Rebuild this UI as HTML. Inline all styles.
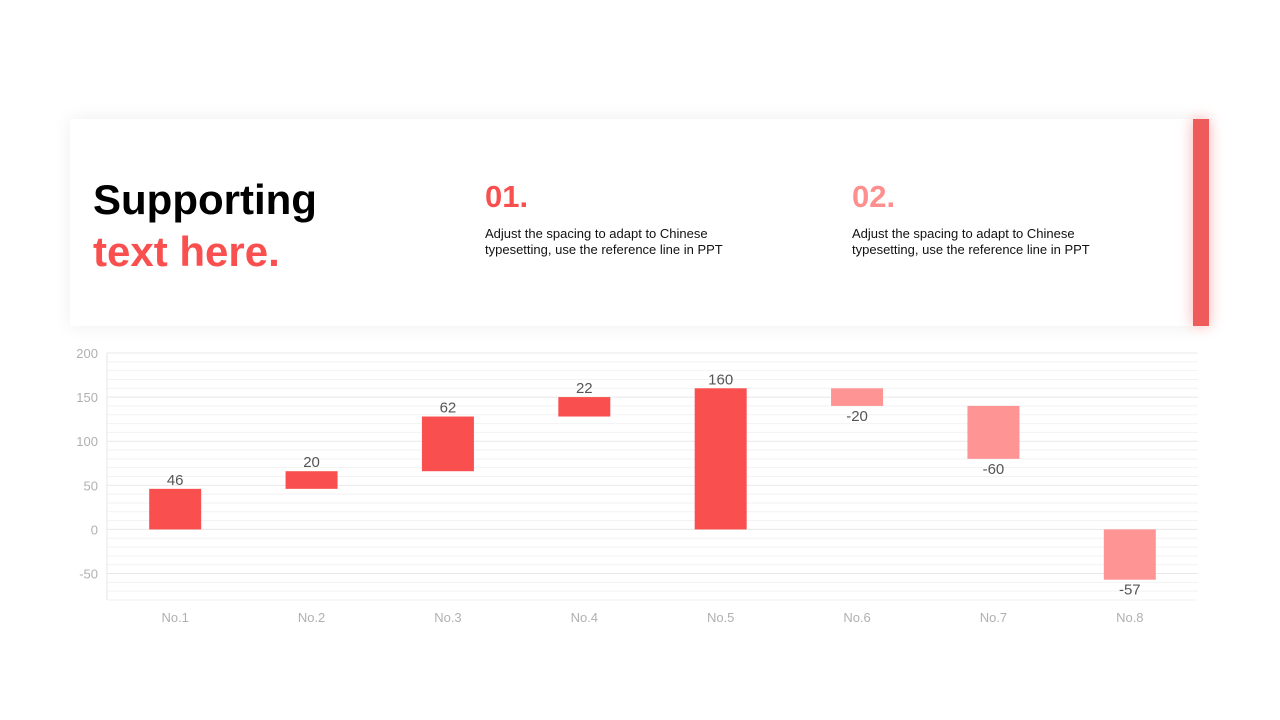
<!DOCTYPE html>
<html><head><meta charset="utf-8"><style>
body{margin:0;width:1280px;height:720px;background:#fff;font-family:"Liberation Sans",sans-serif;position:relative;overflow:hidden}
.card{position:absolute;left:70px;top:119px;width:1123px;height:207px;background:#fff;box-shadow:0 0 18px rgba(0,0,0,0.07)}
.bar{position:absolute;left:1193px;top:119px;width:16px;height:207px;background:#ef5a5a;box-shadow:0 0 14px rgba(249,79,79,0.45)}
.t1{position:absolute;left:93px;top:174px;font-size:42px;font-weight:bold;line-height:52px;color:#000}
.t1 span{color:#f94f4f}
.num{position:absolute;font-size:31px;font-weight:bold;top:179px}
.desc{position:absolute;top:226px;font-size:13px;line-height:16px;color:#111}
</style></head><body>
<div class="card"></div>
<div class="bar"></div>
<div class="t1">Supporting<br><span>text here.</span></div>
<div class="num" style="left:485px;color:#f94f4f">01.</div>
<div class="desc" style="left:485px">Adjust the spacing to adapt to Chinese<br>typesetting, use the reference line in PPT</div>
<div class="num" style="left:852px;color:#ff8f8f">02.</div>
<div class="desc" style="left:852px">Adjust the spacing to adapt to Chinese<br>typesetting, use the reference line in PPT</div>
<svg id="chart" width="1280" height="720" style="position:absolute;left:0;top:0"></svg>
<script>
const categories=["No.1","No.2","No.3","No.4","No.5","No.6","No.7","No.8"];
const values=[46,20,62,22,160,-20,-60,-57];
const resetFlags=[false,false,false,false,true,false,false,true];
const yTicks=[200,150,100,50,0,-50];
const yMin=-80,yMax=200;
const svg=document.getElementById('chart');
const NS='http://www.w3.org/2000/svg';
const L=107,R=1198,T=353,B=600;
const y=v=>B-(v-yMin)/(yMax-yMin)*(B-T);
const band=(R-L)/categories.length;
const x=i=>L+band*(i+0.5);
function mk(tag,attrs,parent){const e=document.createElementNS(NS,tag);for(const k in attrs)e.setAttribute(k,attrs[k]);(parent||svg).appendChild(e);return e;}
for(let v=yMin;v<=yMax;v+=10){
  const g=mk('line',{x1:L,x2:R,y1:y(v),y2:y(v),stroke:v%50===0?'#e8e8e8':'#f2f2f2','stroke-width':1});
  
  
}
const ax=mk('line',{x1:L,x2:L,y1:T,y2:B,stroke:'#e6e6e6'});


yTicks.forEach(v=>{
  const t=mk('text',{x:98,y:y(v)+5,'text-anchor':'end','font-size':13,fill:'#b0b0b0'});
  t.textContent=v;
  
  
});
let run=0;
categories.forEach((c,i)=>{
  const start=resetFlags[i]?0:run;
  const end=start+values[i];
  run=end;
  const up=values[i]>=0;
  const r=mk('rect',{x:x(i)-26,width:52,y:y(Math.max(start,end)),height:Math.abs(y(start)-y(end)),fill:up?'#f94f4f':'#ff9494'});
  
  
  const lt=mk('text',{x:x(i),y:up?y(end)-4:y(end)+15,'text-anchor':'middle','font-size':15,fill:'#555'});
  lt.textContent=values[i];
  
  
  const xt=mk('text',{x:x(i),y:622,'text-anchor':'middle','font-size':13,fill:'#b0b0b0'});
  xt.textContent=c;
  
  
});
</script>
</body></html>
